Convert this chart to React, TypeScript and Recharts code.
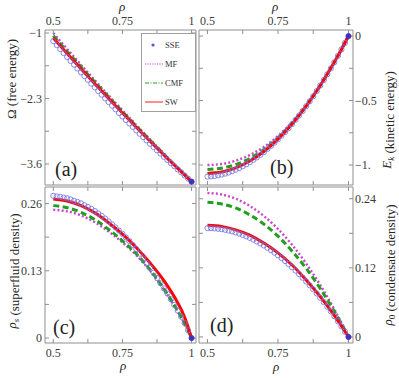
import React from "react";
import { ComposedChart, Line, XAxis, YAxis, Label, Legend } from "recharts";

const FONT = "Liberation Serif, DejaVu Serif, serif";

// densities for the model curves and for the SSE points
const rho = [0.5, 0.55, 0.6, 0.65, 0.7, 0.75, 0.8, 0.85, 0.9, 0.95, 0.975, 1];
const rhoSse = [
  0.5, 0.5125, 0.525, 0.5375, 0.55, 0.5625, 0.575, 0.5875, 0.6, 0.6125, 0.625,
  0.6375, 0.65, 0.6625, 0.675, 0.6875, 0.7, 0.7125, 0.725, 0.7375, 0.75, 0.7625,
  0.775, 0.7875, 0.8, 0.8125, 0.825, 0.8375, 0.85, 0.8625, 0.875, 0.8875, 0.9,
  0.9125, 0.925, 0.9375, 0.95, 0.9625, 0.975, 0.9875, 1,
];

// (a) free energy
const freeSse = [
  -1.16, -1.239, -1.318, -1.397, -1.476, -1.554, -1.629, -1.705, -1.78, -1.855,
  -1.929, -2.004, -2.078, -2.151, -2.224, -2.297, -2.37, -2.442, -2.514, -2.586,
  -2.657, -2.727, -2.795, -2.864, -2.932, -3.0, -3.066, -3.133, -3.199, -3.264,
  -3.328, -3.392, -3.456, -3.519, -3.582, -3.644, -3.706, -3.767, -3.828, -3.89, -3.95,
];
const freeMf = [-1.0, -1.318, -1.63, -1.938, -2.238, -2.534, -2.825, -3.112, -3.394, -3.674, -3.812, -3.95];
const freeCmf = [-1.055, -1.366, -1.672, -1.974, -2.27, -2.562, -2.848, -3.13, -3.407, -3.681, -3.815, -3.95];
const freeSw = [-1.1, -1.408, -1.71, -2.008, -2.3, -2.588, -2.87, -3.148, -3.42, -3.688, -3.819, -3.95];

// (b) kinetic energy
const kinSse = [
  -1.09, -1.088, -1.085, -1.08, -1.074, -1.067, -1.058, -1.048, -1.037, -1.024,
  -1.01, -0.995, -0.978, -0.96, -0.941, -0.921, -0.899, -0.876, -0.851, -0.827,
  -0.801, -0.773, -0.745, -0.715, -0.683, -0.65, -0.616, -0.581, -0.544, -0.506,
  -0.467, -0.426, -0.384, -0.341, -0.296, -0.25, -0.203, -0.154, -0.104, -0.053, 0,
];
const kinMf = [-1.0, -0.992, -0.967, -0.923, -0.86, -0.775, -0.668, -0.537, -0.38, -0.201, -0.104, 0];
const kinCmf = [-1.034, -1.025, -0.997, -0.949, -0.88, -0.789, -0.676, -0.54, -0.382, -0.202, -0.104, 0];
const kinSw = [-1.065, -1.054, -1.022, -0.969, -0.895, -0.799, -0.682, -0.543, -0.383, -0.202, -0.104, 0];

// (c) superfluid density
const sfSse = [
  0.275, 0.2738, 0.2731, 0.2714, 0.2702, 0.268, 0.2653, 0.2631, 0.2604, 0.2569,
  0.2535, 0.2498, 0.2456, 0.2409, 0.2362, 0.231, 0.2255, 0.2197, 0.2138, 0.2077,
  0.2015, 0.1945, 0.1875, 0.18, 0.172, 0.163, 0.154, 0.145, 0.136, 0.126, 0.116,
  0.106, 0.096, 0.086, 0.075, 0.064, 0.053, 0.041, 0.029, 0.015, 0,
];
const sfMf = [0.248, 0.245, 0.237, 0.224, 0.206, 0.185, 0.16, 0.13, 0.094, 0.051, 0.027, 0];
const sfCmf = [0.256, 0.252, 0.243, 0.229, 0.21, 0.188, 0.163, 0.132, 0.095, 0.052, 0.028, 0];
const sfSw = [0.269, 0.265, 0.256, 0.242, 0.223, 0.201, 0.175, 0.145, 0.111, 0.068, 0.04, 0];

// (d) condensate density
const cdSse = [
  0.189, 0.1889, 0.1885, 0.1879, 0.1871, 0.186, 0.1847, 0.1832, 0.1814, 0.1794,
  0.1772, 0.1747, 0.172, 0.169, 0.1658, 0.1624, 0.1588, 0.1549, 0.1507, 0.1464,
  0.1418, 0.1369, 0.1318, 0.1265, 0.121, 0.1152, 0.1091, 0.1029, 0.0964, 0.0897,
  0.0827, 0.0755, 0.068, 0.0604, 0.0524, 0.0443, 0.0359, 0.0273, 0.0184, 0.0093, 0,
];
const cdMf = [0.25, 0.2475, 0.24, 0.2275, 0.21, 0.1875, 0.16, 0.1275, 0.09, 0.0475, 0.0244, 0];
const cdCmf = [0.234, 0.231, 0.224, 0.212, 0.196, 0.175, 0.149, 0.119, 0.084, 0.044, 0.023, 0];
const cdSw = [0.194, 0.192, 0.186, 0.177, 0.163, 0.146, 0.125, 0.099, 0.07, 0.037, 0.019, 0];

const xTicks = [0.5, 0.625, 0.75, 0.875, 1];
const xTickLabels = ["0.5", "", "0.75", "", "1"];
const freeTicks = [-1, -1.65, -2.3, -2.95, -3.6];
const freeTickLabels = ["\u22121", "", "\u22122.3", "", "\u22123.6"];
const kinTicks = [0, -0.25, -0.5, -0.75, -1];
const kinTickLabels = ["0", "", "\u22120.5", "", "\u22121."];
const sfTicks = [0, 0.065, 0.13, 0.195, 0.26];
const sfTickLabels = ["0", "", "0.13", "", "0.26"];
const cdTicks = [0, 0.06, 0.12, 0.18, 0.24];
const cdTickLabels = ["0", "", "0.12", "", "0.24"];

const legendNames = ["SSE", "MF", "CMF", "SW"];

const W = 399;
const H = 378;
const AXIS_H = 20;
const AXIS_W = 30;
const FRAME = "#8f8f8f";
const TICK_TEXT = { fill: "#3a3a3a", fontSize: 12, fontFamily: FONT };
const xDomain: [number, number] = [0.47, 1.016];

const C_SSE = "#7474e0";
const C_MF = "#cc44cc";
const C_CMF = "#1f9e1f";
const C_SW = "#ff0000";

const pts = (xs: number[], ys: number[]) => xs.map((x, i) => ({ rho: x, v: ys[i] }));
const fmt = (ticks: number[], labels: string[]) => (v: number) => {
  const i = ticks.findIndex((t) => Math.abs(t - v) < 1e-9);
  return i >= 0 ? labels[i] : "";
};
const blank = () => "";

const SseDot = (props: any) => {
  const { cx, cy, index } = props;
  if (cx == null || cy == null) return <g key={index} />;
  const last = index === rhoSse.length - 1;
  return (
    <circle
      key={index}
      cx={cx}
      cy={cy}
      r={2.6}
      fill={last ? "#3535cc" : "none"}
      stroke={last ? "#5533aa" : C_SSE}
      strokeOpacity={0.85}
      strokeWidth={1}
    />
  );
};

const LegendBox = () => (
  <div
    style={{
      width: 55,
      height: 79,
      boxSizing: "border-box",
      border: "1px solid #a0a0a0",
      background: "#fff",
      fontFamily: FONT,
      fontSize: 8.5,
      color: "#333",
      paddingTop: 1,
    }}
  >
    {legendNames.map((name) => (
      <div key={name} style={{ display: "flex", alignItems: "center", height: 19 }}>
        <svg width={21} height={8} style={{ marginLeft: 2 }}>
          {name === "SSE" && <circle cx={9} cy={4} r={1.6} fill="#5555cc" />}
          {name === "MF" && (
            <line x1={1} y1={4} x2={19} y2={4} stroke={C_MF} strokeWidth={1.2} strokeDasharray="1.2 1.2" />
          )}
          {name === "CMF" && (
            <line x1={1} y1={4} x2={19} y2={4} stroke={C_CMF} strokeWidth={1.2} strokeDasharray="4 1.5 1 1.5" />
          )}
          {name === "SW" && <line x1={1} y1={4} x2={19} y2={4} stroke="#ff8f8f" strokeWidth={2} />}
        </svg>
        <span>{name}</span>
      </div>
    ))}
  </div>
);

const rhoTitle = (x: number, y: number) => (
  <text x={x} y={y} textAnchor="middle" fontFamily={FONT} fontStyle="italic" fontSize={13} fill="#222">
    ρ
  </text>
);

const sideTitle = (x: number, y: number, sym: React.ReactNode, rest: string) => (
  <text
    x={x}
    y={y}
    transform={`rotate(-90 ${x} ${y})`}
    textAnchor="middle"
    fontFamily={FONT}
    fontSize={13}
    fill="#222"
  >
    {sym}
    {rest}
  </text>
);

type PanelProps = {
  sse: number[];
  mf: number[];
  cmf: number[];
  sw: number[];
  yDomain: [number, number];
  yTicks: number[];
  yTickLabels: string[];
  xSide: "top" | "bottom";
  ySide: "left" | "right";
  box: { left: number; top: number; right: number; bottom: number };
  xTitle: React.ReactNode;
  yTitle: React.ReactNode;
  legend?: boolean;
};

const Panel = (p: PanelProps) => {
  const margin = {
    left: p.box.left - AXIS_W,
    top: p.box.top - AXIS_H,
    right: W - p.box.right - AXIS_W,
    bottom: H - p.box.bottom - AXIS_H,
  };
  const xFmt = fmt(xTicks, xTickLabels);
  const yFmt = fmt(p.yTicks, p.yTickLabels);
  return (
    <div style={{ position: "absolute", left: 0, top: 0 }}>
      <ComposedChart width={W} height={H} margin={margin}>
        <XAxis
          xAxisId="top"
          orientation="top"
          type="number"
          dataKey="rho"
          domain={xDomain}
          allowDataOverflow
          ticks={xTicks}
          interval={0}
          tickFormatter={p.xSide === "top" ? xFmt : blank}
          height={AXIS_H}
          stroke={FRAME}
          tick={TICK_TEXT}
          tickSize={-4}
          tickMargin={9}
        >
          {p.xSide === "top" && <Label content={() => p.xTitle} />}
        </XAxis>
        <XAxis
          xAxisId="bottom"
          orientation="bottom"
          type="number"
          dataKey="rho"
          domain={xDomain}
          allowDataOverflow
          ticks={xTicks}
          interval={0}
          tickFormatter={p.xSide === "bottom" ? xFmt : blank}
          height={AXIS_H}
          stroke={FRAME}
          tick={TICK_TEXT}
          tickSize={-4}
          tickMargin={9}
        >
          {p.xSide === "bottom" && <Label content={() => p.xTitle} />}
        </XAxis>
        <YAxis
          yAxisId="left"
          orientation="left"
          type="number"
          domain={p.yDomain}
          allowDataOverflow
          ticks={p.yTicks}
          interval={0}
          tickFormatter={p.ySide === "left" ? yFmt : blank}
          width={AXIS_W}
          stroke={FRAME}
          tick={TICK_TEXT}
          tickSize={-4}
          tickMargin={7}
        >
          {p.ySide === "left" && <Label content={() => p.yTitle} />}
        </YAxis>
        <YAxis
          yAxisId="right"
          orientation="right"
          type="number"
          domain={p.yDomain}
          allowDataOverflow
          ticks={p.yTicks}
          interval={0}
          tickFormatter={p.ySide === "right" ? yFmt : blank}
          width={AXIS_W}
          stroke={FRAME}
          tick={TICK_TEXT}
          tickSize={-4}
          tickMargin={6}
        >
          {p.ySide === "right" && <Label content={() => p.yTitle} />}
        </YAxis>

        <Line
          xAxisId="bottom"
          yAxisId="left"
          data={pts(rhoSse, p.sse)}
          dataKey="v"
          name="SSE"
          stroke="none"
          dot={SseDot}
          activeDot={false}
          isAnimationActive={false}
        />
        <Line
          xAxisId="bottom"
          yAxisId="left"
          data={pts(rho, p.mf)}
          dataKey="v"
          name="MF"
          type="monotone"
          stroke={C_MF}
          strokeWidth={2.4}
          strokeDasharray="2 2.2"
          dot={false}
          activeDot={false}
          isAnimationActive={false}
        />
        <Line
          xAxisId="bottom"
          yAxisId="left"
          data={pts(rho, p.cmf)}
          dataKey="v"
          name="CMF"
          type="monotone"
          stroke={C_CMF}
          strokeWidth={3}
          strokeDasharray="6 3.5"
          dot={false}
          activeDot={false}
          isAnimationActive={false}
        />
        <Line
          xAxisId="bottom"
          yAxisId="left"
          data={pts(rho, p.sw)}
          dataKey="v"
          name="SW"
          type="monotone"
          stroke={C_SW}
          strokeWidth={3}
          dot={false}
          activeDot={false}
          isAnimationActive={false}
        />
        {p.legend && (
          <Legend
            content={LegendBox}
            layout="vertical"
            align="center"
            verticalAlign="middle"
            wrapperStyle={{ left: 141, top: 33, width: 55, height: 79 }}
          />
        )}
      </ComposedChart>
    </div>
  );
};

const letter = (text: string, left: number, top: number) => (
  <div
    style={{
      position: "absolute",
      left,
      top,
      fontFamily: FONT,
      fontSize: 20,
      lineHeight: "20px",
      color: "#222",
    }}
  >
    {text}
  </div>
);

export default function App() {
  return (
    <div style={{ position: "absolute", left: 0, top: 0, width: W, height: H, background: "#fff" }}>
      <Panel
        sse={freeSse}
        mf={freeMf}
        cmf={freeCmf}
        sw={freeSw}
        yDomain={[-4.017, -0.94]}
        yTicks={freeTicks}
        yTickLabels={freeTickLabels}
        xSide="top"
        ySide="left"
        box={{ left: 45, top: 30, right: 196, bottom: 185 }}
        xTitle={rhoTitle(122, 11)}
        yTitle={sideTitle(16, 79, "\u03a9", " (free energy)")}
        legend
      />
      <Panel
        sse={kinSse}
        mf={kinMf}
        cmf={kinCmf}
        sw={kinSw}
        yDomain={[-1.155, 0.047]}
        yTicks={kinTicks}
        yTickLabels={kinTickLabels}
        xSide="top"
        ySide="right"
        box={{ left: 199, top: 30, right: 353, bottom: 185 }}
        xTitle={rhoTitle(275, 11)}
        yTitle={sideTitle(
          391,
          120,
          <>
            <tspan fontStyle="italic">E</tspan>
            <tspan fontStyle="italic" fontSize={9} dy={3}>k</tspan>
            <tspan dy={-3}></tspan>
          </>,
          " (kinetic energy)"
        )}
      />
      <Panel
        sse={sfSse}
        mf={sfMf}
        cmf={sfCmf}
        sw={sfSw}
        yDomain={[-0.0096, 0.292]}
        yTicks={sfTicks}
        yTickLabels={sfTickLabels}
        xSide="bottom"
        ySide="left"
        box={{ left: 45, top: 187, right: 196, bottom: 343 }}
        xTitle={rhoTitle(123, 370)}
        yTitle={sideTitle(
          16,
          271,
          <>
            <tspan fontStyle="italic">ρ</tspan>
            <tspan fontStyle="italic" fontSize={9} dy={3}>s</tspan>
            <tspan dy={-3}></tspan>
          </>,
          " (superfluid density)"
        )}
      />
      <Panel
        sse={cdSse}
        mf={cdMf}
        cmf={cdCmf}
        sw={cdSw}
        yDomain={[-0.0105, 0.2604]}
        yTicks={cdTicks}
        yTickLabels={cdTickLabels}
        xSide="bottom"
        ySide="right"
        box={{ left: 199, top: 187, right: 353, bottom: 343 }}
        xTitle={rhoTitle(276, 371)}
        yTitle={sideTitle(
          392,
          265,
          <>
            <tspan fontStyle="italic">ρ</tspan>
            <tspan fontSize={9} dy={3}>0</tspan>
            <tspan dy={-3}></tspan>
          </>,
          " (condensate density)"
        )}
      />
      {letter("(a)", 55, 159)}
      {letter("(b)", 270, 157)}
      {letter("(c)", 53, 317)}
      {letter("(d)", 210, 315)}
    </div>
  );
}
